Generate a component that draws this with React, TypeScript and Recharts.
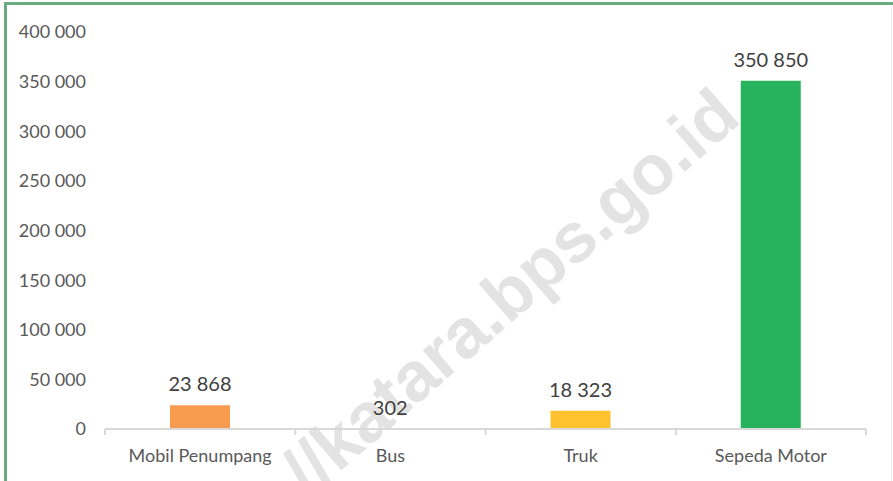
import React from "react";
import { BarChart, Bar, XAxis, YAxis, Cell, LabelList } from "recharts";

const categories = ["Mobil Penumpang", "Bus", "Truk", "Sepeda Motor"];
const vehicles = [23868, 302, 18323, 350850];
const barColors = ["#F79B51", "#5B9BD5", "#FEC22F", "#27B35C"];
const yTicks = [0, 50000, 100000, 150000, 200000, 250000, 300000, 350000, 400000];

const data = categories.map((name, i) => ({ name, value: vehicles[i] }));

const fmt = (v: number) => String(v).replace(/\B(?=(\d{3})+(?!\d))/g, " ");

const W = 893;
const H = 481;
const LEFT = 105;
const RIGHT = 27;
const BAND = (W - LEFT - RIGHT) / categories.length;
const FONT = "Lato, 'Open Sans', sans-serif";

const CategoryTick = (props: any) => {
  const { x, y, payload, index } = props;
  const last = index === categories.length - 1;
  return (
    <g>
      <line x1={x - BAND / 2} x2={x - BAND / 2} y1={y} y2={y + 6} stroke="#D9D9D9" strokeWidth={2} />
      {last && <line x1={x + BAND / 2} x2={x + BAND / 2} y1={y} y2={y + 6} stroke="#D9D9D9" strokeWidth={2} />}
      <text x={x} y={y + 26} textAnchor="middle" dominantBaseline="central" fill="#595959" fontSize={18} fontFamily={FONT}>
        {payload.value}
      </text>
    </g>
  );
};

export default function App() {
  return (
    <div style={{ position: "absolute", left: 0, top: 0, width: W, height: H, background: "#fff", overflow: "hidden" }}>
      {/* watermark, behind the chart */}
      <div
        style={{
          position: "absolute",
          left: 510,
          top: 292,
          transform: "translate(-50%, -50%) rotate(-41deg)",
          fontFamily: "'Liberation Sans', Arial, sans-serif",
          fontWeight: "bold",
          fontSize: 70,
          color: "#E3E3E3",
          whiteSpace: "nowrap",
        }}
      >
        //katara.bps.go.id
      </div>
      <div style={{ position: "absolute", left: 4, top: 2, width: W, height: H, borderLeft: "3px solid #6CAA82", borderTop: "3px solid #6CAA82" }} />
      <div style={{ position: "absolute", left: 891, top: 5, width: 1, height: H, background: "#EEEEEE" }} />
      <div style={{ position: "absolute", left: 0, top: 0 }}>
        <BarChart width={W} height={H} data={data} margin={{ top: 32, right: RIGHT, left: 0, bottom: 0 }}>
          <YAxis
            width={LEFT}
            domain={[0, 400000]}
            ticks={yTicks}
            tickFormatter={fmt}
            axisLine={false}
            tickLine={false}
            tickSize={0}
            tickMargin={19}
            tick={{ fill: "#595959", fontSize: 18, fontFamily: FONT }}
          />
          <XAxis
            dataKey="name"
            height={52}
            axisLine={{ stroke: "#D9D9D9", strokeWidth: 2 }}
            tickLine={false}
            tickSize={0}
            tickMargin={0}
            tick={<CategoryTick />}
            interval={0}
          />
          <Bar dataKey="value" barSize={60} isAnimationActive={false}>
            {data.map((d, i) => (
              <Cell key={d.name} fill={barColors[i]} />
            ))}
            <LabelList
              dataKey="value"
              position="top"
              offset={14}
              formatter={(v: any) => fmt(Number(v))}
              fill="#404040"
              fontSize={20}
              fontFamily={FONT}
            />
          </Bar>
        </BarChart>
      </div>
    </div>
  );
}
